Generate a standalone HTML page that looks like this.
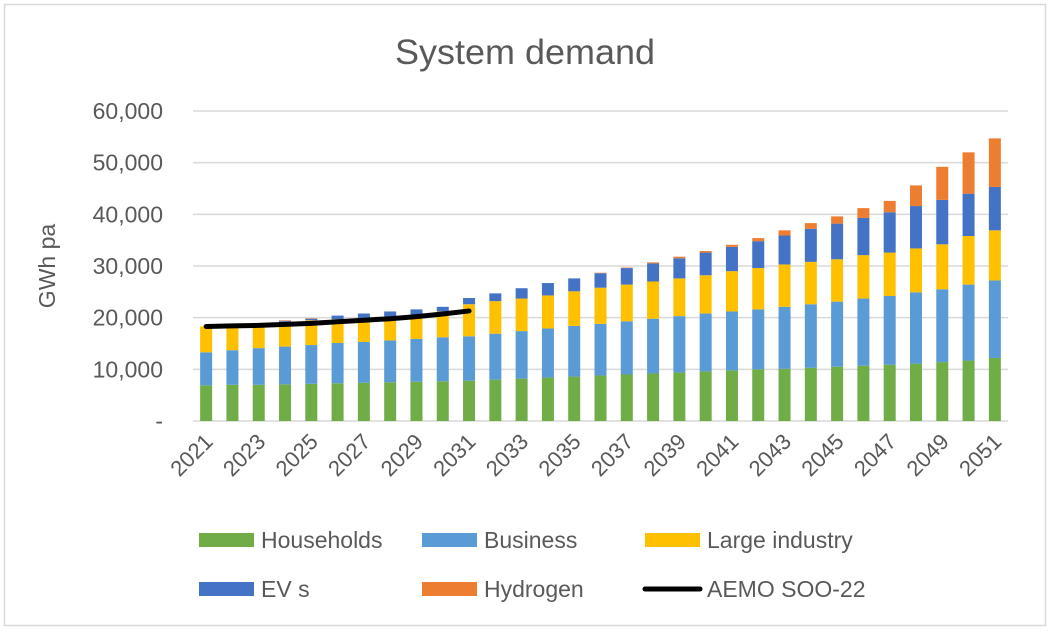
<!DOCTYPE html>
<html><head><meta charset="utf-8"><style>
body{margin:0;background:#fff;}
svg text{font-family:"Liberation Sans","DejaVu Sans",sans-serif;fill:#595959;}
</style></head><body>
<svg id="chart" width="1050" height="630" xmlns="http://www.w3.org/2000/svg">
<rect x="4.5" y="4.5" width="1041" height="621" fill="#fff" stroke="#d9d9d9" stroke-width="1.5"/>
<text x="525" y="64" text-anchor="middle" font-size="35" textLength="260" lengthAdjust="spacingAndGlyphs">System demand</text>
<text transform="translate(55,266) rotate(-90)" text-anchor="middle" font-size="23">GWh pa</text>
<g id="grid"></g><g id="bars"></g><g id="line"></g><g id="xlabels"></g>
<g id="legend"></g>
</svg>
<script>
const years = [];
for (let y = 2021; y <= 2051; y++) years.push(y);
const households = [6.9,7.0,7.0,7.1,7.2,7.3,7.4,7.5,7.6,7.7,7.8,8.0,8.2,8.4,8.6,8.8,9.0,9.2,9.4,9.6,9.8,10.0,10.1,10.3,10.5,10.7,10.9,11.1,11.4,11.7,12.2];
const business = [6.4,6.7,7.1,7.3,7.5,7.8,7.9,8.1,8.3,8.5,8.6,8.9,9.2,9.5,9.8,10.0,10.3,10.6,10.9,11.2,11.4,11.6,12.0,12.3,12.6,13.0,13.3,13.8,14.1,14.7,15.0];
const largeIndustry = [5.0,4.8,4.7,4.8,4.8,4.6,4.6,4.6,4.7,5.0,6.2,6.3,6.3,6.4,6.7,7.0,7.1,7.2,7.3,7.4,7.8,8.0,8.2,8.2,8.2,8.4,8.4,8.5,8.7,9.4,9.7];
const evs = [0,0.1,0.1,0.2,0.3,0.7,0.9,1.0,1.0,0.9,1.2,1.5,2.0,2.4,2.5,2.8,3.2,3.5,3.9,4.4,4.7,5.2,5.6,6.4,6.9,7.2,7.8,8.2,8.6,8.2,8.4];
const hydrogen = [0,0,0,0.1,0.1,0,0,0,0,0,0,0,0,0,0,0.1,0.1,0.2,0.3,0.3,0.4,0.6,1.0,1.1,1.4,1.9,2.2,4.0,6.4,8.0,9.4];
const aemo = [18.3,18.4,18.5,18.7,18.9,19.2,19.5,19.8,20.2,20.7,21.3];
const yTicks = [0,10,20,30,40,50,60];
const yTickLabels = ["-","10,000","20,000","30,000","40,000","50,000","60,000"];

const NS="http://www.w3.org/2000/svg";
const L=193,R=1008,Y0=421,Y60=111;
const step=(R-L)/years.length, bw=12;
const xc=i=>L+step*(i+0.5);
const ys=v=>Y0-(v/60)*(Y0-Y60);
function mk(tag,parent,attrs){const e=document.createElementNS(NS,tag);for(const k in attrs)e.setAttribute(k,attrs[k]);document.getElementById(parent).appendChild(e);return e;}

yTicks.forEach((t,i)=>{
  const g=mk('line','grid',{x1:L,x2:R,y1:ys(t),y2:ys(t),stroke:'#d9d9d9','stroke-width':1.5});
  
  
  const tx=mk('text','grid',{x:163,y:ys(t)+8,'text-anchor':'end','font-size':23});
  tx.textContent=yTickLabels[i];
  
  
});

const series=[[households,'#70ad47','households'],[business,'#5b9bd5','business'],[largeIndustry,'#ffc000','large-industry'],[evs,'#4472c4','evs'],[hydrogen,'#ed7d31','hydrogen']];
years.forEach((yr,i)=>{
  let base=0;
  series.forEach(([arr,col,nm])=>{
    const v=arr[i]; if(v<=0) return;
    const r=mk('rect','bars',{x:xc(i)-bw/2,y:ys(base+v),width:bw,height:ys(base)-ys(base+v),fill:col});
    
    
    base+=v;
  });
  if(i%2===0){
    const t=mk('text','xlabels',{'text-anchor':'end','font-size':22,transform:`translate(${xc(i)+8},443) rotate(-45)`});
    t.textContent=yr;
    
    
  }
});

const pts=aemo.map((v,i)=>xc(i)+','+ys(v)).join(' ');
const pl=mk('polyline','line',{points:pts,fill:'none',stroke:'#000','stroke-width':5,'stroke-linecap':'round','stroke-linejoin':'round'});



const legendItems=[['Households','#70ad47',199,540,'r'],['Business','#5b9bd5',422,540,'r'],['Large industry','#ffc000',645,540,'r'],['EV s','#4472c4',199,589,'r'],['Hydrogen','#ed7d31',422,589,'r'],['AEMO SOO-22','#000',645,589,'l']];
legendItems.forEach(([name,col,x,y,kind])=>{
  let s;
  if(kind==='r') s=mk('rect','legend',{x:x,y:y-7,width:55,height:14,fill:col});
  else s=mk('line','legend',{x1:x,x2:x+55,y1:y,y2:y,stroke:col,'stroke-width':5,'stroke-linecap':'round'});
  
  
  const t=mk('text','legend',{x:x+62,y:y+8,'font-size':23});
  t.textContent=name;
  
  
});
</script>
</body></html>
